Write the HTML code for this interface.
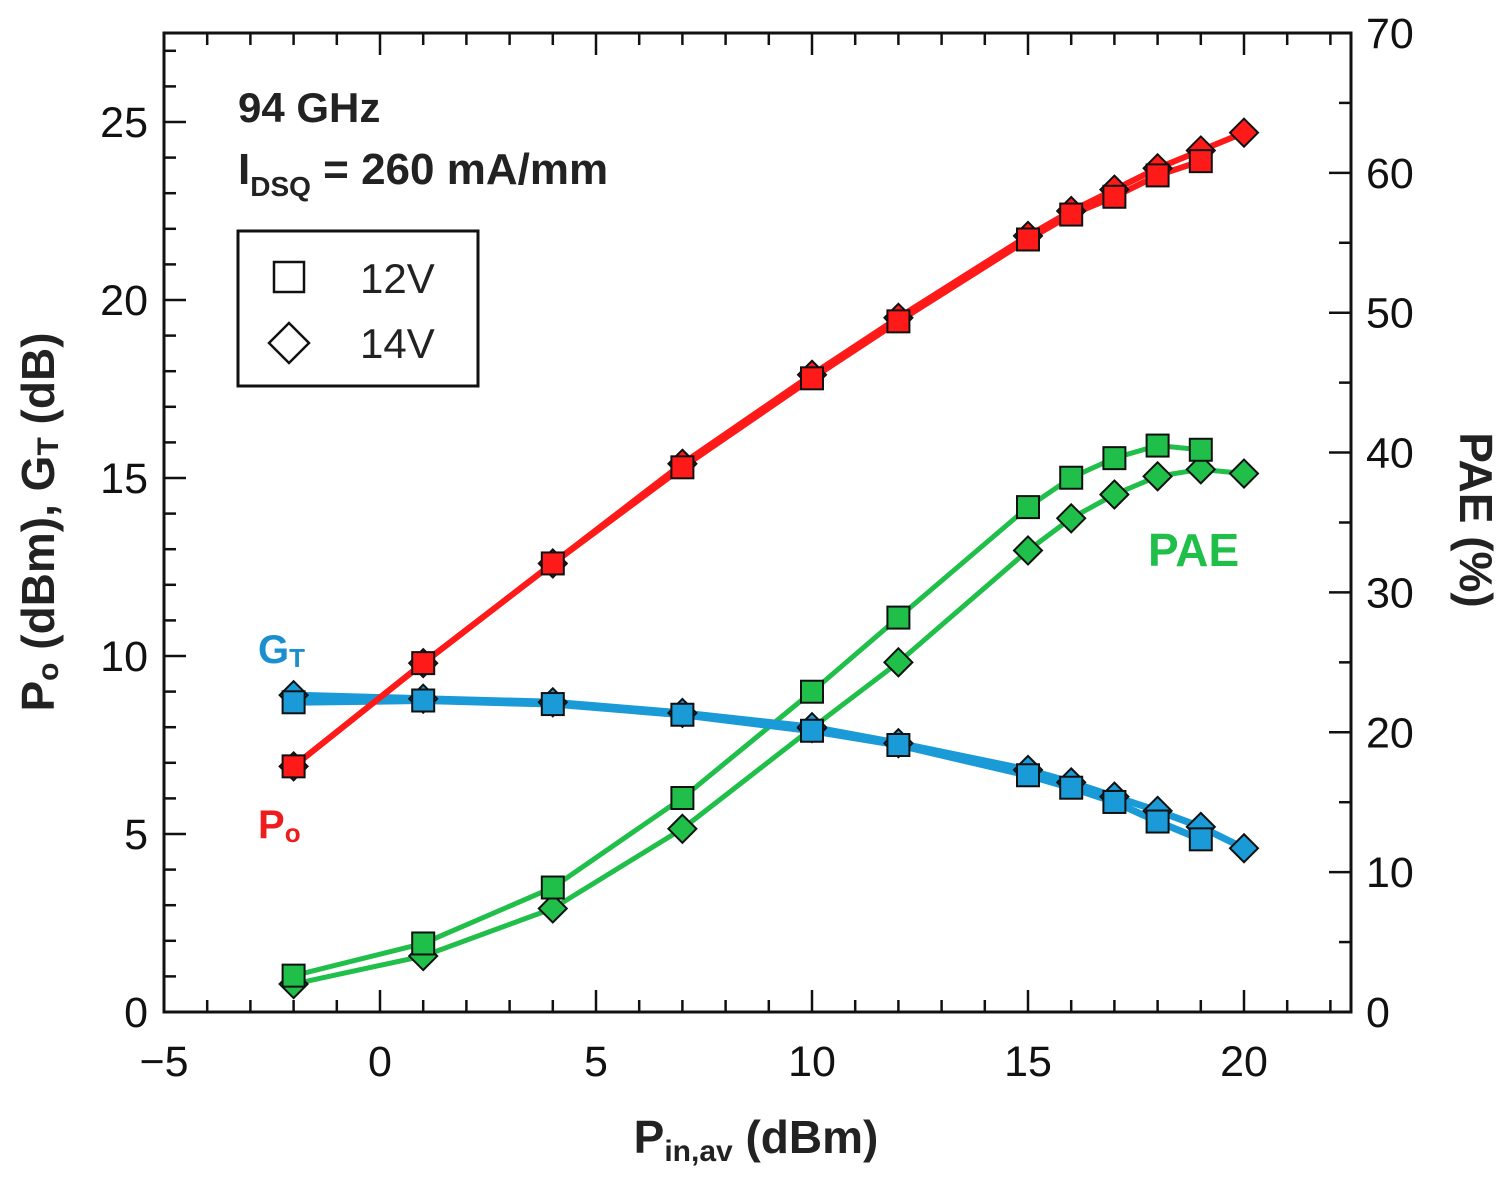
<!DOCTYPE html>
<html><head><meta charset="utf-8"><style>
html,body{margin:0;padding:0;background:#fff;}
svg{display:block;font-family:"Liberation Sans",Arial,sans-serif;}
</style></head><body>
<svg id="chart" width="1510" height="1178" viewBox="0 0 1510 1178">
<g id="ticks"></g>
<g id="series"></g>
<rect x="164" y="33" width="1187" height="979" fill="none" stroke="#111" stroke-width="3"/>
<g id="labels"></g>
<text x="238" y="122" font-size="42" font-weight="bold" fill="#222">94 GHz</text>
<text x="238" y="184" font-size="44" font-weight="bold" fill="#222">I<tspan font-size="28" dy="12">DSQ</tspan><tspan dy="-12"> = 260 mA/mm</tspan></text>
<g>
<rect x="238" y="231" width="240" height="155" fill="#fff" stroke="#111" stroke-width="3"/>
<rect x="274" y="262" width="30" height="30" fill="none" stroke="#111" stroke-width="2.5"/>
<text x="360" y="293" font-size="42" fill="#222">12V</text>
<polygon points="289,323 309,343 289,363 269,343" fill="none" stroke="#111" stroke-width="2.5"/>
<text x="360" y="358" font-size="42" fill="#222">14V</text>
</g>
<text x="258" y="663" font-size="40" font-weight="bold" fill="#1a8fd0">G<tspan font-size="26" dy="4">T</tspan></text>
<text x="258" y="838" font-size="40" font-weight="bold" fill="#ee1c1c">P<tspan font-size="26" dy="4">o</tspan></text>
<text x="1148" y="566" font-size="46" font-weight="bold" fill="#1fbf4a">PAE</text>
<text x="756" y="1153" font-size="46" font-weight="bold" fill="#222" text-anchor="middle">P<tspan font-size="30" dy="8">in,av</tspan><tspan dy="-8"> (dBm)</tspan></text>
<text transform="translate(54,522) rotate(-90)" font-size="46" font-weight="bold" fill="#222" text-anchor="middle">P<tspan font-size="30" dy="4">o</tspan><tspan dy="-4"> (dBm), G</tspan><tspan font-size="30" dy="4">T</tspan><tspan dy="-4"> (dB)</tspan></text>
<text transform="translate(1460,520) rotate(90)" font-size="46" font-weight="bold" fill="#222" text-anchor="middle">PAE (%)</text>
</svg>
<script>
const xVals=[-2,1,4,7,10,12,15,16,17,18,19,20];
const po12=[6.9,9.8,12.6,15.3,17.8,19.4,21.7,22.4,22.9,23.5,23.9];
const po14=[6.9,9.8,12.6,15.4,17.9,19.5,21.8,22.5,23.1,23.7,24.2,24.7];
const gt12=[8.7,8.75,8.65,8.35,7.9,7.5,6.65,6.3,5.9,5.35,4.85];
const gt14=[8.9,8.8,8.7,8.4,8.0,7.55,6.8,6.45,6.05,5.65,5.2,4.6];
const pae12=[2.6,4.9,8.9,15.3,22.9,28.2,36.1,38.2,39.6,40.5,40.2];
const pae14=[2.0,4.0,7.4,13.1,20.3,25.0,33.0,35.3,37.0,38.3,38.8,38.5];
const xTicks=[-5,0,5,10,15,20];
const yLTicks=[0,5,10,15,20,25];
const yRTicks=[0,10,20,30,40,50,60,70];

const NS="http://www.w3.org/2000/svg";
const X=v=>164+(v+5)*43.2;
const YL=v=>1012-v*35.6;
const YR=v=>1012-v*13.986;
function mk(t,a,p){const e=document.createElementNS(NS,t);for(const k in a)e.setAttribute(k,a[k]);p.appendChild(e);return e;}
const tg=document.getElementById('ticks'),lg=document.getElementById('labels'),sg=document.getElementById('series');
for(let v=-5;v<=22;v++){const maj=v%5===0,L=maj?22:12,x=X(v);
 let t=mk('line',{x1:x,x2:x,y1:1012,y2:1012-L,stroke:'#111','stroke-width':2.5},tg);
 
 t=mk('line',{x1:x,x2:x,y1:33,y2:33+L,stroke:'#111','stroke-width':2.5},tg);
 }
for(let v=0;v<=27;v++){const maj=v%5===0,L=maj?22:12,y=YL(v);
 const t=mk('line',{x1:164,x2:164+L,y1:y,y2:y,stroke:'#111','stroke-width':2.5},tg);
 }
for(let v=0;v<=70;v+=5){const maj=v%10===0,L=maj?22:12,y=YR(v);
 const t=mk('line',{x1:1351,x2:1351-L,y1:y,y2:y,stroke:'#111','stroke-width':2.5},tg);
 }
xTicks.forEach(v=>{const t=mk('text',{x:X(v),y:1076,'font-size':43,'text-anchor':'middle',fill:'#111'},lg);t.textContent=v<0?'\u2212'+(-v):v;
 });
yLTicks.forEach(v=>{const t=mk('text',{x:148,y:YL(v)+15,'font-size':43,'text-anchor':'end',fill:'#111'},lg);t.textContent=v;
 });
yRTicks.forEach(v=>{const t=mk('text',{x:1366,y:YR(v)+15,'font-size':43,fill:'#111'},lg);t.textContent=v;
 });

function series(vals,Y,color,shape,name,w){
 const pts=vals.map((v,i)=>X(xVals[i])+','+Y(v)).join(' ');
 const l=mk('polyline',{points:pts,fill:'none',stroke:color,'stroke-width':w},sg);
 
 return ()=>vals.forEach((v,i)=>{const x=X(xVals[i]),y=Y(v);let m;
  if(shape==='sq')m=mk('rect',{x:x-11,y:y-11,width:22,height:22,fill:color,stroke:'#111','stroke-width':2},sg);
  else m=mk('polygon',{points:`${x},${y-14} ${x+14},${y} ${x},${y+14} ${x-14},${y}`,fill:color,stroke:'#111','stroke-width':2},sg);
  });
}
const R='#ff1a1a',B='#1a9ad6',G='#1fbf4a';
const d=[
 series(pae14,YR,G,'di','pae-14v',5),series(pae12,YR,G,'sq','pae-12v',5),
 series(gt14,YL,B,'di','gt-14v',7),series(gt12,YL,B,'sq','gt-12v',7),
 series(po14,YL,R,'di','po-14v',6),series(po12,YL,R,'sq','po-12v',6)];
d.forEach(f=>f());
</script>
</body></html>
